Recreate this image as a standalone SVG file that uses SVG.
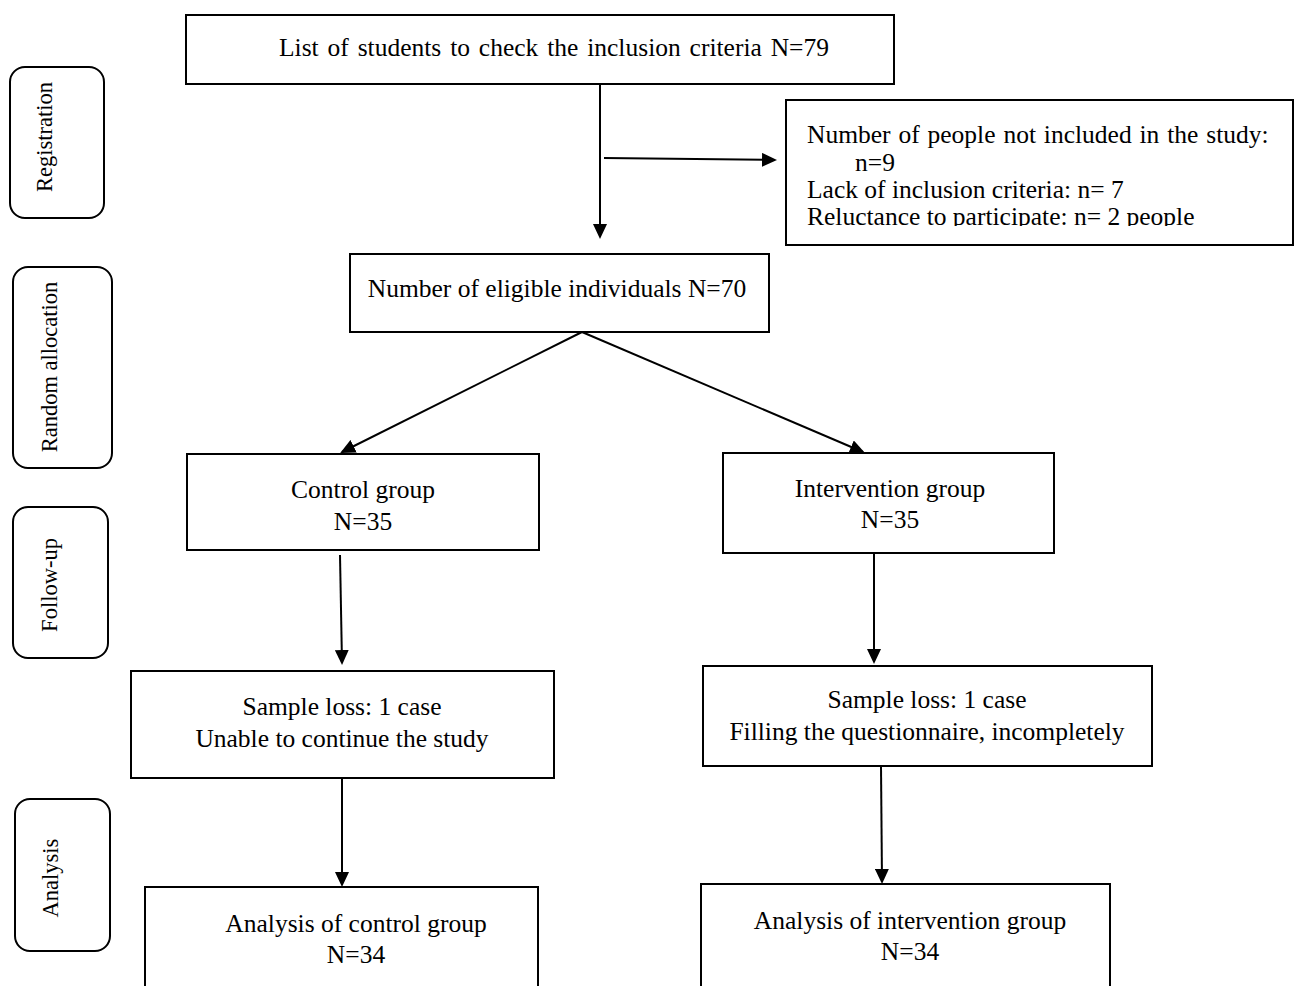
<svg xmlns="http://www.w3.org/2000/svg" width="1296" height="986" viewBox="0 0 1296 986">
<style>
  .box { fill: #ffffff; stroke: #000000; stroke-width: 2; }
  .side { fill: #ffffff; stroke: #000000; stroke-width: 2; }
  .t { font-family: "Liberation Serif", "Times New Roman", serif; font-size: 25.5px; fill: #000000; }
  .c { text-anchor: middle; }
  .s { font-family: "Liberation Serif", "Times New Roman", serif; font-size: 22.5px; fill: #000000; text-anchor: middle; }
  .arr { fill: none; stroke: #000000; stroke-width: 2; marker-end: url(#ah); }
</style>
<defs>
  <marker id="ah" viewBox="0 0 15 14" refX="13" refY="7" markerWidth="15" markerHeight="14" markerUnits="userSpaceOnUse" orient="auto">
    <path d="M0,0 L15,7 L0,14 z" fill="#000000"/>
  </marker>
  <clipPath id="exclClip">
    <rect x="787" y="101" width="505" height="125"/>
  </clipPath>
</defs>
<rect width="1296" height="986" fill="#ffffff"/>

<g id="stage-registration">
  <rect class="side" x="10" y="67" width="94" height="151" rx="15"/>
  <text class="s" transform="translate(52,137) rotate(-90)">Registration</text>
</g>
<g id="stage-random">
  <rect class="side" x="13" y="267" width="99" height="201" rx="15"/>
  <text class="s" transform="translate(57,367) rotate(-90)">Random allocation</text>
</g>
<g id="stage-followup">
  <rect class="side" x="13" y="507" width="95" height="151" rx="15"/>
  <text class="s" transform="translate(57,585) rotate(-90)">Follow-up</text>
</g>
<g id="stage-analysis">
  <rect class="side" x="15" y="799" width="95" height="152" rx="15"/>
  <text class="s" transform="translate(58,878) rotate(-90)">Analysis</text>
</g>

<g id="connectors">
  <line class="arr" x1="600" y1="84" x2="600" y2="237"/>
  <line class="arr" x1="604" y1="158" x2="775" y2="160"/>
  <line class="arr" x1="582" y1="332" x2="342" y2="452"/>
  <line class="arr" x1="582" y1="332" x2="863" y2="452"/>
  <line class="arr" x1="340" y1="555" x2="342" y2="663"/>
  <line class="arr" x1="874" y1="553" x2="874" y2="662"/>
  <line class="arr" x1="342" y1="778" x2="342" y2="885"/>
  <line class="arr" x1="881" y1="766" x2="882" y2="882"/>
</g>

<g id="n-list">
  <rect class="box" x="186" y="15" width="708" height="69"/>
  <text class="t c" x="554" y="56" word-spacing="2.5">List of students to check the inclusion criteria N=79</text>
</g>
<g id="n-excluded">
  <rect class="box" x="786" y="100" width="507" height="145"/>
  <g clip-path="url(#exclClip)">
    <text class="t" x="807" y="143" word-spacing="1.5">Number of people not included in the study:</text>
    <text class="t" x="855" y="171">n=9</text>
    <text class="t" x="807" y="198">Lack of inclusion criteria: n= 7</text>
    <text class="t" x="807" y="225">Reluctance to participate: n= 2 people</text>
  </g>
</g>
<g id="n-eligible">
  <rect class="box" x="350" y="254" width="419" height="78"/>
  <text class="t c" x="557" y="297">Number of eligible individuals N=70</text>
</g>
<g id="n-control">
  <rect class="box" x="187" y="454" width="352" height="96"/>
  <text class="t c" x="363" y="498">Control group</text>
  <text class="t c" x="363" y="530">N=35</text>
</g>
<g id="n-intervention">
  <rect class="box" x="723" y="453" width="331" height="100"/>
  <text class="t c" x="890" y="497">Intervention group</text>
  <text class="t c" x="890" y="528">N=35</text>
</g>
<g id="n-loss-control">
  <rect class="box" x="131" y="671" width="423" height="107"/>
  <text class="t c" x="342" y="715">Sample loss: 1 case</text>
  <text class="t c" x="342" y="747">Unable to continue the study</text>
</g>
<g id="n-loss-intervention">
  <rect class="box" x="703" y="666" width="449" height="100"/>
  <text class="t c" x="927" y="708">Sample loss: 1 case</text>
  <text class="t c" x="927" y="740">Filling the questionnaire, incompletely</text>
</g>
<g id="n-analysis-control">
  <rect class="box" x="145" y="887" width="393" height="110"/>
  <text class="t c" x="356" y="932">Analysis of control group</text>
  <text class="t c" x="356" y="963">N=34</text>
</g>
<g id="n-analysis-intervention">
  <rect class="box" x="701" y="884" width="409" height="110"/>
  <text class="t c" x="910" y="929">Analysis of intervention group</text>
  <text class="t c" x="910" y="960">N=34</text>
</g>
</svg>
